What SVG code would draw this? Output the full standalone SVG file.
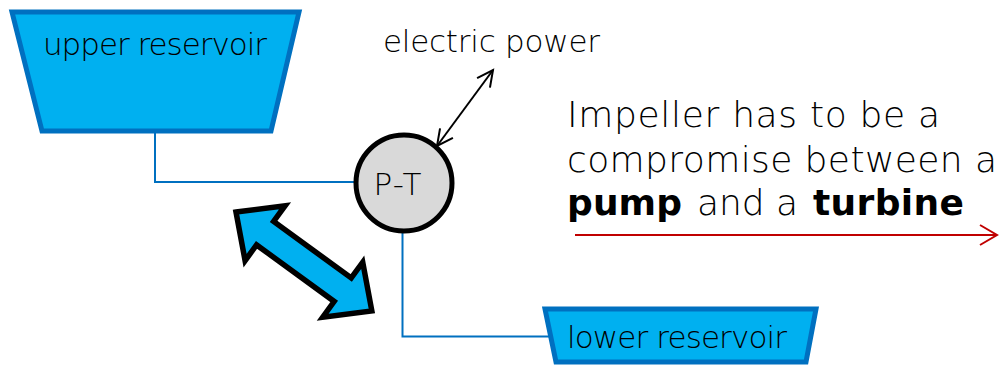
<svg xmlns="http://www.w3.org/2000/svg" width="1001" height="366" viewBox="0 0 1001 366">
  <defs>
    <style>
      .res { fill: #00b0f0; stroke: #0070c0; stroke-width: 5; stroke-linejoin: miter; }
      .pipe { fill: none; stroke: #0070c0; stroke-width: 2; }
      .lbl { font-family: "DejaVu Sans", "Liberation Sans", sans-serif; font-weight: 200; fill: #000000; }
      .bold { font-weight: 700; }
    </style>
    <marker id="blackHead" markerUnits="userSpaceOnUse" markerWidth="40" markerHeight="40" refX="0" refY="0" viewBox="-20 -20 40 40" orient="auto-start-reverse">
      <path d="M-16,-8 L0,0 L-16,8" fill="none" stroke="#000000" stroke-width="2"/>
    </marker>
    <marker id="redHead" markerUnits="userSpaceOnUse" markerWidth="40" markerHeight="40" refX="0" refY="0" viewBox="-20 -20 40 40" orient="auto">
      <path d="M-17,-10 L0,0 L-17,10" fill="none" stroke="#c00000" stroke-width="2"/>
    </marker>
  </defs>
  <rect width="1001" height="366" fill="#ffffff"/>

  <g id="connectors">
    <polyline class="pipe" points="155,133 155,182 355,182"/>
    <polyline class="pipe" points="402.5,231 402.5,336.5 549,336.5"/>
    <line x1="437" y1="146" x2="493" y2="70" stroke="#000000" stroke-width="2" marker-start="url(#blackHead)" marker-end="url(#blackHead)"/>
    <line x1="575" y1="235" x2="997" y2="235" stroke="#c00000" stroke-width="2" marker-end="url(#redHead)"/>
  </g>

  <g id="upper-reservoir">
    <polygon class="res" points="12,12 299,12 271,131 42,131"/>
    <text class="lbl" x="43" y="55" font-size="31" textLength="224">upper reservoir</text>
  </g>

  <g id="lower-reservoir">
    <polygon class="res" points="545,309 816,309 806,362 556,362"/>
    <text class="lbl" x="567" y="348" font-size="31" textLength="220">lower reservoir</text>
  </g>

  <g id="pump-turbine">
    <circle cx="404" cy="183" r="48" fill="#d9d9d9" stroke="#000000" stroke-width="5"/>
    <text class="lbl" x="397.5" y="195" font-size="31" text-anchor="middle" textLength="48">P-T</text>
  </g>

  <g id="electric-power">
    <text class="lbl" x="383" y="52" font-size="31" textLength="217">electric power</text>
  </g>

  <g id="flow-arrow">
    <polygon points="0,0 36,-34 36,-14.5 132,-14.5 132,-34 168,0 132,34 132,14.5 36,14.5 36,34" transform="translate(236,212) rotate(36.05)" fill="#00b0f0" stroke="#000000" stroke-width="5.5" stroke-linejoin="miter"/>
  </g>

  <g id="note">
    <text class="lbl" x="567" y="127" font-size="36" textLength="373">Impeller has to be a</text>
    <text class="lbl" x="567" y="172" font-size="36" textLength="430">compromise between a</text>
    <text class="lbl" y="215" font-size="36"><tspan class="bold" x="567" textLength="115">pump</tspan><tspan x="697" textLength="101">and a</tspan><tspan class="bold" x="813" textLength="151">turbine</tspan></text>
  </g>
</svg>
